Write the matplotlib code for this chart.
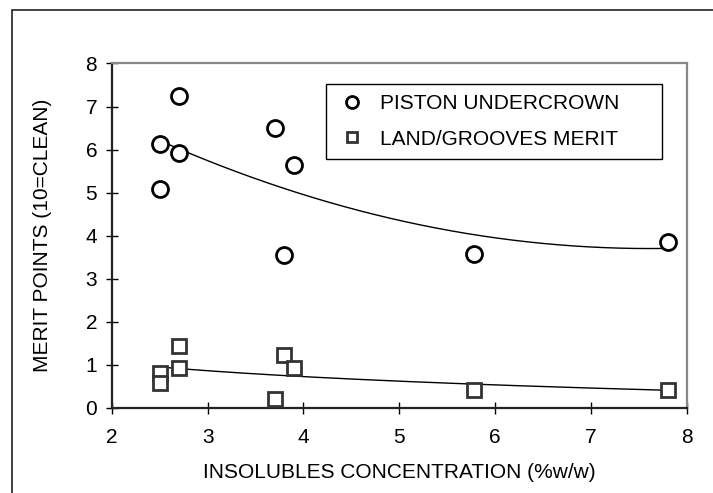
import matplotlib.pyplot as plt
import matplotlib.patches as patches
import numpy as np

plt.rcParams['font.family'] = ['Liberation Sans', 'DejaVu Sans']

# piston undercrown merit
x_piston = [2.5, 2.5, 2.7, 2.7, 3.7, 3.9, 3.8, 5.78, 7.8]
y_piston = [6.13, 5.07, 7.24, 5.92, 6.49, 5.63, 3.54, 3.58, 3.85]

# land/grooves merit
x_land = [2.5, 2.5, 2.7, 2.7, 3.7, 3.8, 3.9, 5.78, 7.8]
y_land = [0.81, 0.58, 1.42, 0.91, 0.2, 1.22, 0.91, 0.41, 0.41]

x_ticks = [2, 3, 4, 5, 6, 7, 8]
y_ticks = [0, 1, 2, 3, 4, 5, 6, 7, 8]

fig = plt.figure(figsize=(7.13, 4.93), dpi=100)
ax = fig.add_axes([0.1567, 0.1734, 0.8068, 0.6978])

# outer frame (only top and left visible)
frame = patches.Rectangle((12 / 713, -0.1), 1.2, (493 - 10) / 493 + 0.1,
                          transform=fig.transFigure, fill=False,
                          edgecolor='#222222', lw=1.2, clip_on=False)
fig.patches.append(frame)

ax.plot(x_piston, y_piston, 'o', ms=11.5, mfc='white', mec='black', mew=2,
        label='PISTON UNDERCROWN', zorder=3)
ax.plot(x_land, y_land, 's', ms=10, mfc='white', mec='#333333', mew=2,
        label='LAND/GROOVES MERIT', zorder=3)

# trendlines: 2nd order polynomial and logarithmic
xp = np.linspace(min(x_piston), max(x_piston), 200)
c = np.polyfit(x_piston, y_piston, 2)
ax.plot(xp, np.polyval(c, xp), color='black', lw=1)

xl = np.linspace(min(x_land), max(x_land), 200)
b, a = np.polyfit(np.log(x_land), y_land, 1)
ax.plot(xl, a + b * np.log(xl), color='black', lw=1)

ax.set_xlim(2, 8)
ax.set_ylim(0, 8)
ax.set_xticks(x_ticks)
ax.set_yticks(y_ticks)
ax.tick_params(axis='both', direction='inout', length=9, width=1,
               labelsize=15, color='black')
ax.tick_params(axis='y', pad=6)
ax.tick_params(axis='x', pad=10)

for s in ['left', 'bottom']:
    ax.spines[s].set_color('#222222')
    ax.spines[s].set_linewidth(1.6)
for s in ['top', 'right']:
    ax.spines[s].set_color('#888888')
    ax.spines[s].set_linewidth(1.6)

ax.set_xlabel('INSOLUBLES CONCENTRATION (%w/w)', fontsize=15, labelpad=12)
ax.set_ylabel('MERIT POINTS (10=CLEAN)', fontsize=15, labelpad=24)

leg = ax.legend(loc='upper left', bbox_to_anchor=(0.372, 0.699, 0.584, 0.2425),
                mode='expand', borderaxespad=0, fontsize=15, frameon=True,
                fancybox=False, edgecolor='black', framealpha=1,
                handlelength=1.5, handletextpad=0.6, labelspacing=0.8,
                borderpad=0.5, markerscale=0.75)
leg.get_frame().set_linewidth(1)

plt.savefig('out.png', dpi=100)
